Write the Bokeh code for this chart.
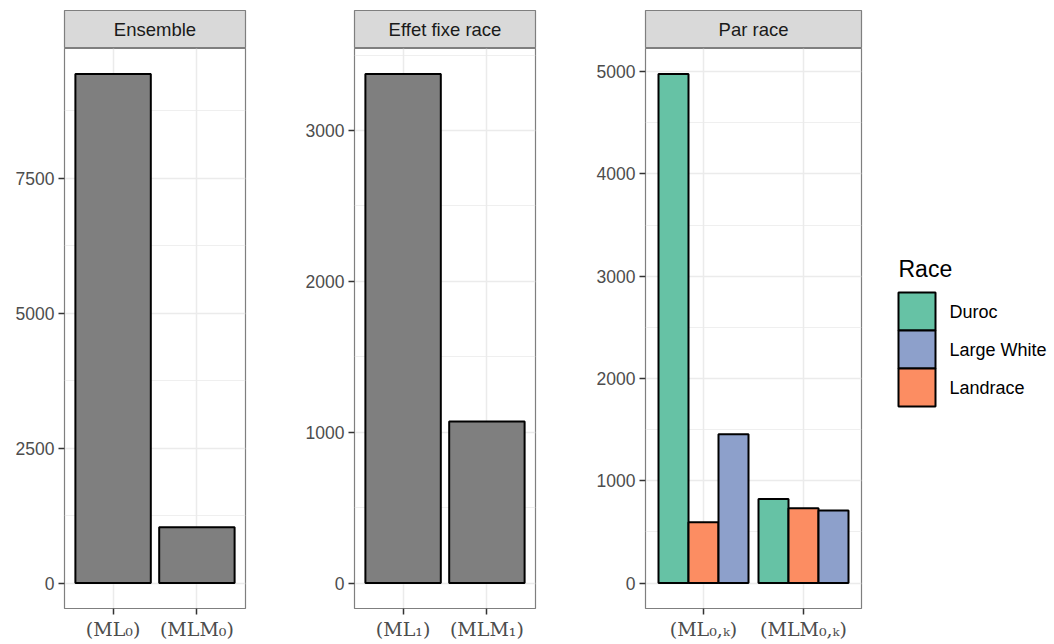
from bokeh.plotting import figure
from bokeh.models import (FactorRange, Range1d, FixedTicker, Label, ColumnDataSource)
from bokeh.core.properties import value
from bokeh.transform import dodge
from bokeh.layouts import row, column
from bokeh.embed import file_html
from bokeh.resources import INLINE

# ---- data ----
ensemble_cats = ["(ML₀)", "(MLM₀)"]
ensemble_values = [9430, 1032]

effet_cats = ["(ML₁)", "(MLM₁)"]
effet_values = [3375, 1071]

race_groups = ["(ML₀,ₖ)", "(MLM₀,ₖ)"]
duroc_values = [4978, 823]
landrace_values = [594, 732]
large_white_values = [1455, 710]

ensemble_yticks = [0, 2500, 5000, 7500]
ensemble_yminor = [1250, 3750, 6250, 8750]
effet_yticks = [0, 1000, 2000, 3000]
effet_yminor = [500, 1500, 2500, 3500]
race_yticks = [0, 1000, 2000, 3000, 4000, 5000]
race_yminor = [500, 1500, 2500, 3500, 4500]

strip_titles = ["Ensemble", "Effet fixe race", "Par race"]
legend_title = "Race"
legend_labels = ["Duroc", "Large White", "Landrace"]

# ---- style ----
GRID = "#EBEBEB"
BORDER = "#7F7F7F"
STRIP_FILL = "#D9D9D9"
TICK_TXT = "#4D4D4D"
BAR_GREY = "#7F7F7F"
COL_DUROC = "#66C2A5"
COL_LW = "#8DA0CB"
COL_LAND = "#FC8D62"
legend_colors = [COL_DUROC, COL_LW, COL_LAND]

STRIP_H = 48      # 10 px top border + 38 px strip
PANEL_H = 594     # 562 px frame + 32 px bottom axis
TOTAL_H = STRIP_H + PANEL_H


def make_strip(title, width, left, right):
    s = figure(width=width, height=STRIP_H, x_range=(0, 1), y_range=(0, 1),
               toolbar_location=None, output_backend="svg",
               min_border_left=left, min_border_right=right,
               min_border_top=10, min_border_bottom=0)
    s.xaxis.visible = False
    s.yaxis.visible = False
    s.grid.visible = False
    s.background_fill_color = STRIP_FILL
    s.outline_line_color = BORDER
    s.outline_line_width = 1.2
    s.add_layout(Label(x=0.5, y=0.5, text=title, text_align="center",
                       text_baseline="middle", text_font="Liberation Sans",
                       text_font_size="18.5px", text_color="#1A1A1A"))
    return s


def make_panel(cats, vmax, yticks, yminor, width, left, right):
    p = figure(width=width, height=PANEL_H,
               x_range=FactorRange(factors=cats, range_padding=0.08,
                                   range_padding_units="absolute"),
               y_range=Range1d(-0.05 * vmax, 1.05 * vmax),
               toolbar_location=None, output_backend="svg",
               min_border_left=left, min_border_right=right,
               min_border_top=0, min_border_bottom=32)
    p.outline_line_color = BORDER
    p.outline_line_width = 1.2
    p.background_fill_color = "white"
    p.yaxis.ticker = FixedTicker(ticks=yticks, minor_ticks=yminor)
    for ax in (p.xaxis[0], p.yaxis[0]):
        ax.axis_line_color = None
        ax.major_tick_line_color = "#333333"
        ax.major_tick_line_width = 1.5
        ax.major_tick_in = 0
        ax.minor_tick_line_color = None
        ax.major_label_text_color = TICK_TXT
    p.xaxis.major_tick_out = 6
    p.xaxis.major_label_standoff = 3
    p.xaxis.major_label_text_font = "DejaVu Serif"
    p.xaxis.major_label_text_font_size = "19px"
    p.yaxis.major_tick_out = 6
    p.yaxis.major_label_standoff = 4
    p.yaxis.major_label_text_font = "Liberation Sans"
    p.yaxis.major_label_text_font_size = "17.5px"
    p.xgrid.grid_line_color = GRID
    p.xgrid.grid_line_width = 1.5
    p.ygrid.grid_line_color = GRID
    p.ygrid.grid_line_width = 1.5
    p.ygrid.minor_grid_line_color = GRID
    p.ygrid.minor_grid_line_width = 0.8
    return p


# layout widths (frames: 64-245, 354-535, 645-861)
W1, L1, R1 = 284, 64, 39
W2, L2, R2 = 291, 70, 40
W3, L3, R3 = 296, 70, 10
WL = 1052 - (W1 + W2 + W3)

# panel 1
p1 = make_panel(ensemble_cats, max(ensemble_values), ensemble_yticks, ensemble_yminor, W1, L1, R1)
src1 = ColumnDataSource(dict(cat=ensemble_cats, value=ensemble_values))
p1.vbar(x="cat", top="value", width=0.9, source=src1,
        fill_color=BAR_GREY, line_color="#000000", line_width=2)

# panel 2
p2 = make_panel(effet_cats, max(effet_values), effet_yticks, effet_yminor, W2, L2, R2)
src2 = ColumnDataSource(dict(cat=effet_cats, value=effet_values))
p2.vbar(x="cat", top="value", width=0.9, source=src2,
        fill_color=BAR_GREY, line_color="#000000", line_width=2)

# panel 3
vmax3 = max(duroc_values + landrace_values + large_white_values)
p3 = make_panel(race_groups, vmax3, race_yticks, race_yminor, W3, L3, R3)
src_d = ColumnDataSource(dict(group=race_groups, value=duroc_values))
src_la = ColumnDataSource(dict(group=race_groups, value=landrace_values))
src_lw = ColumnDataSource(dict(group=race_groups, value=large_white_values))
p3.vbar(x=dodge("group", -0.3, range=p3.x_range), top="value", width=0.3, source=src_d,
        fill_color=COL_DUROC, line_color="#000000", line_width=2)
p3.vbar(x=dodge("group", 0.0, range=p3.x_range), top="value", width=0.3, source=src_la,
        fill_color=COL_LAND, line_color="#000000", line_width=2)
p3.vbar(x=dodge("group", 0.3, range=p3.x_range), top="value", width=0.3, source=src_lw,
        fill_color=COL_LW, line_color="#000000", line_width=2)

# legend panel: pixel-mapped figure (y grows downward)
lf = figure(width=WL, height=TOTAL_H, x_range=Range1d(0, WL), y_range=Range1d(TOTAL_H, 0),
            toolbar_location=None, output_backend="svg",
            min_border_left=0, min_border_right=0, min_border_top=0, min_border_bottom=0)
lf.xaxis.visible = False
lf.yaxis.visible = False
lf.grid.visible = False
lf.outline_line_color = None

KEY_X0, KEY_W, KEY_Y0, KEY_H = 27, 37, 292, 38
n = len(legend_labels)
key_src = ColumnDataSource(dict(
    left=[KEY_X0] * n,
    right=[KEY_X0 + KEY_W] * n,
    top=[KEY_Y0 + KEY_H * i for i in range(n)],
    bottom=[KEY_Y0 + KEY_H * (i + 1) for i in range(n)],
    color=legend_colors,
    label=legend_labels,
    ty=[KEY_Y0 + KEY_H * i + KEY_H / 2 for i in range(n)],
    tx=[KEY_X0 + KEY_W + 14] * n,
))
lf.quad(left="left", right="right", top="top", bottom="bottom", source=key_src,
        fill_color="color", line_color="#000000", line_width=2)
lf.text(x="tx", y="ty", text="label", source=key_src,
        text_font=value("Liberation Sans"), text_font_size="18px",
        text_color="#000000", text_baseline="middle", text_align="left")
lf.add_layout(Label(x=KEY_X0, y=KEY_Y0 - 24, text=legend_title,
                    text_font="Liberation Sans", text_font_size="23px",
                    text_color="#000000", text_baseline="middle", text_align="left"))

s1 = make_strip(strip_titles[0], W1, L1, R1)
s2 = make_strip(strip_titles[1], W2, L2, R2)
s3 = make_strip(strip_titles[2], W3, L3, R3)

layout = row(column(s1, p1), column(s2, p2), column(s3, p3), lf)

open("out.html", "w").write(file_html(layout, INLINE))
